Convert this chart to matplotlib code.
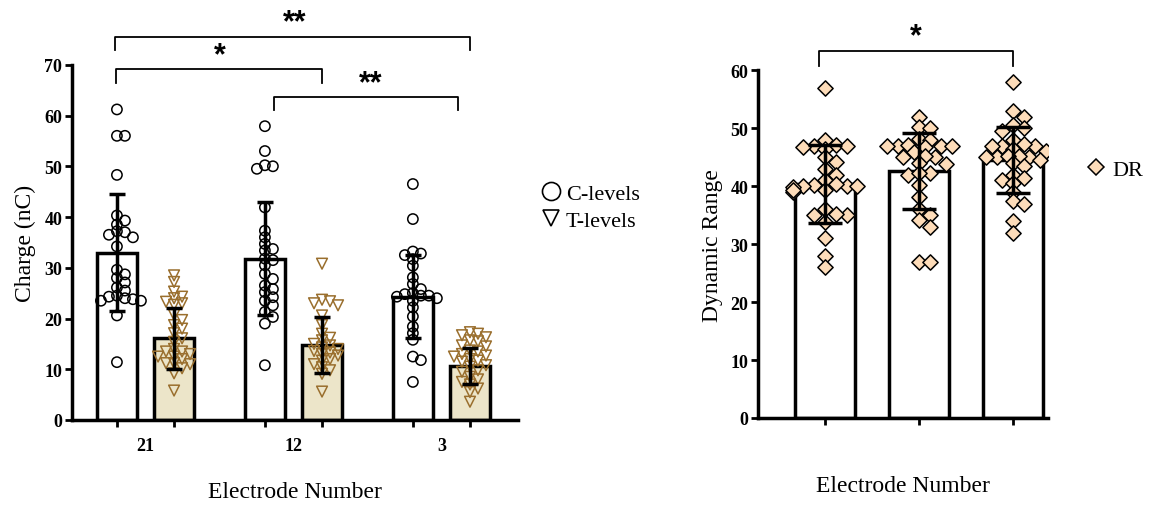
import numpy as np
import matplotlib
matplotlib.use("Agg")
import matplotlib.pyplot as plt
from matplotlib.lines import Line2D

plt.rcParams['font.family'] = ['Liberation Serif', 'DejaVu Sans']

# --- data ---
electrodes = ['21', '12', '3']

c_mean = [33.0, 31.8, 24.3]
c_sd = [11.6, 11.2, 8.2]
t_mean = [16.1, 14.8, 10.6]
t_sd = [6.0, 5.5, 3.6]
dr_mean = [40.4, 42.6, 44.5]
dr_sd = [6.7, 6.6, 5.7]

c21 = [61.2, 56.0, 56.0, 48.3, 40.3, 39.3, 38.5, 37.2, 37.0, 36.5, 36.0, 34.2, 29.6, 28.7,
       28.0, 27.1, 26.1, 25.5, 24.5, 24.0, 24.3, 23.5, 23.5, 23.8, 20.6, 11.4]
c12 = [57.9, 53.0, 50.0, 50.2, 49.5, 41.9, 37.3, 36.0, 34.7, 33.7, 33.4, 31.8, 31.5, 30.5,
       28.8, 27.8, 26.5, 25.8, 25.2, 24.2, 23.5, 22.6, 21.3, 20.3, 19.0, 10.8]
c3 = [46.5, 39.6, 33.2, 32.8, 32.5, 31.7, 30.4, 28.1, 26.8, 25.8, 24.8, 24.5, 24.5, 24.3,
      23.5, 22.2, 20.4, 18.4, 17.1, 15.8, 12.5, 11.8, 7.5, 25.0, 24.0]
t21 = [28.5, 27.2, 25.3, 24.3, 24.0, 23.3, 23.0, 22.7, 20.7, 19.7, 18.7, 18.0, 17.1, 16.1,
       15.4, 14.0, 13.5, 13.5, 13.0, 12.5, 12.5, 12.0, 11.2, 11.2, 11.0, 10.2, 9.2, 5.8]
t12 = [30.8, 23.7, 23.4, 23.0, 22.6, 20.6, 18.7, 17.0, 15.7, 15.0, 14.7, 14.0, 13.6, 13.0,
       12.7, 12.0, 11.7, 11.0, 10.4, 9.8, 9.1, 5.6, 13.3, 14.3, 16.2]
t3 = [17.3, 17.0, 16.7, 16.3, 15.7, 15.5, 14.7, 14.5, 13.7, 13.5, 12.7, 12.5, 11.7, 11.5,
      10.8, 10.5, 9.8, 9.5, 8.5, 8.0, 7.5, 7.0, 6.2, 5.5, 3.6, 12.0, 13.0]
dr21 = [57, 48, 47.2, 47, 47, 46.8, 46.5, 45, 44.2, 43, 42, 41, 40.2, 40, 40, 40.3, 40,
        39.8, 39.3, 39, 39.3, 36.1, 35, 35, 35.2, 33.8, 31, 28, 26]
dr12 = [52, 50.2, 50, 48.2, 48, 47, 47, 47.2, 47, 46.8, 47, 45.9, 45, 45, 45.2, 43.9, 44,
        42.2, 42, 42.3, 40.2, 38.1, 36, 35, 34.1, 33, 27, 27]
dr3 = [58, 53, 52, 50.5, 50, 49.5, 48, 47, 47, 47.3, 47, 46.5, 46, 45, 45.3, 45, 45, 45.2,
       44.5, 44, 43.5, 42, 41.5, 41, 40.5, 39, 37.5, 37, 34, 32]

c_pts = [c21, c12, c3]
t_pts = [t21, t12, t3]
dr_pts = [dr21, dr12, dr3]

T_EDGE = '#9a6f2e'
T_FILL = '#ece5c9'
DR_FILL = '#fddcb9'


def swarm(ax, center, vals, d, step=0.4, gap=0.65):
    # simple deterministic beeswarm in pixel space
    vals = np.asarray(vals, float)
    order = np.argsort(-vals)
    pix = ax.transData.transform(np.column_stack([np.full(len(vals), center), vals]))
    placed = []
    xs = np.zeros(len(vals))
    for i in order:
        px, py = pix[i]
        for k in [0, 1, -1, 2, -2, 3, -3, 4, -4, 5, -5, 6, -6]:
            xo = px + k * d * step
            if all(np.hypot(xo - qx, py - qy) >= d * gap for qx, qy in placed):
                break
        placed.append((xo, py))
        xs[i] = ax.transData.inverted().transform((xo, py))[0]
    return xs


def style_axis(ax):
    for s in ['top', 'right']:
        ax.spines[s].set_visible(False)
    for s in ['left', 'bottom']:
        ax.spines[s].set_linewidth(2.5)
    ax.tick_params(axis='y', width=2, length=5, labelsize=13, pad=2)
    ax.tick_params(axis='x', which='major', width=2, length=5, labelbottom=False)
    ax.tick_params(axis='x', which='minor', length=0, labelsize=13, pad=12)
    for lab in ax.get_yticklabels() + ax.get_xticklabels(minor=True):
        lab.set_fontweight('bold')


def bracket(ax, x1, x2, y, tip, stars, sy, sx=None):
    ax.plot([x1, x1, x2, x2], [y - tip, y, y, y - tip], color='black', lw=1.3,
            clip_on=False)
    if sx is None:
        sx = (x1 + x2) / 2
    ax.text(sx, sy, stars, ha='center', va='center', fontsize=22, fontweight='bold',
            family='Liberation Sans')


fig = plt.figure(figsize=(11.53, 5.06), dpi=100)

# ---------------- left panel ----------------
ax1 = fig.add_axes([0.0624, 0.168, 0.3868, 0.702])
ax1.set_xlim(-0.497, 2.517)
ax1.set_ylim(0, 70)
grp = np.arange(3)
off = 0.193
w = 0.27

ax1.bar(grp - off, c_mean, w, color='white', edgecolor='black', lw=2.5, zorder=1)
ax1.bar(grp + off, t_mean, w, color=T_FILL, edgecolor='black', lw=2.5, zorder=1)

for i in range(3):
    xs = swarm(ax1, grp[i] - off, c_pts[i], 10)
    ax1.scatter(xs, c_pts[i], s=55, marker='o', facecolor='none', edgecolor='black',
                lw=1.1, zorder=3)
    xs = swarm(ax1, grp[i] + off, t_pts[i], 10)
    ax1.scatter(xs, t_pts[i], s=60, marker='v', facecolor='none', edgecolor=T_EDGE,
                lw=1.1, zorder=3)

ax1.errorbar(grp - off, c_mean, yerr=c_sd, fmt='none', ecolor='black', elinewidth=2.5,
             capsize=6, capthick=2.5, zorder=4)
ax1.errorbar(grp + off, t_mean, yerr=t_sd, fmt='none', ecolor='black', elinewidth=2.5,
             capsize=6, capthick=2.5, zorder=4)

ax1.set_xticks(np.concatenate([grp - off, grp + off]))
ax1.set_xticks(grp, electrodes, minor=True)
ax1.set_yticks(range(0, 71, 10))
style_axis(ax1)
ax1.set_ylabel('Charge (nC)', fontsize=17, labelpad=6)
ax1.set_xlabel('Electrode Number', fontsize=17, labelpad=20)

bracket(ax1, -0.206, 2.19, 75.5, 2.6, '**', 78.4, 1.01)
bracket(ax1, -0.2, 1.19, 69.2, 2.7, '*', 71.9, 0.5)
bracket(ax1, 0.87, 2.11, 63.7, 2.7, '**', 66.3, 1.52)

ax1.legend(handles=[
    Line2D([], [], marker='o', ls='none', markersize=13, markerfacecolor='none',
           markeredgecolor='black', markeredgewidth=1.2, label='C-levels'),
    Line2D([], [], marker='v', ls='none', markersize=11, markerfacecolor='none',
           markeredgecolor='black', markeredgewidth=1.2, label='T-levels')],
    loc='center left', bbox_to_anchor=(1.0, 0.6), frameon=False, fontsize=16,
    handletextpad=0.05, handlelength=1.2, labelspacing=0.3)

# ---------------- right panel ----------------
ax2 = fig.add_axes([0.6574, 0.172, 0.2515, 0.687])
ax2.set_xlim(-0.713, 2.37)
ax2.set_ylim(0, 60)
wd = 0.64
ax2.bar(grp, dr_mean, wd, color='white', edgecolor='black', lw=2.5, zorder=1)
for i in range(3):
    xs = swarm(ax2, grp[i], dr_pts[i], 12, step=0.45, gap=0.7)
    ax2.scatter(xs, dr_pts[i], s=60, marker='D', facecolor=DR_FILL, edgecolor='black',
                lw=1.1, zorder=3)
ax2.errorbar(grp, dr_mean, yerr=dr_sd, fmt='none', ecolor='black', elinewidth=2.5,
             capsize=12, capthick=2.5, zorder=4)
ax2.set_xticks(grp)
ax2.set_xticks(grp, electrodes, minor=True)
ax2.set_yticks(range(0, 61, 10))
style_axis(ax2)
ax2.tick_params(axis='x', which='minor', pad=10)
ax2.set_ylabel('Dynamic Range', fontsize=17, labelpad=5)
ax2.set_xlabel('Electrode Number', fontsize=17, labelpad=36)

bracket(ax2, -0.064, 2.0, 63.3, 2.5, '*', 65.8)

ax2.legend(handles=[
    Line2D([], [], marker='D', ls='none', markersize=8, markerfacecolor=DR_FILL,
           markeredgecolor='black', markeredgewidth=1.1, label='DR')],
    loc='center left', bbox_to_anchor=(1.06, 0.715), frameon=False, fontsize=16,
    handletextpad=0.2, handlelength=1.0)

fig.savefig('out.png', dpi=100)
